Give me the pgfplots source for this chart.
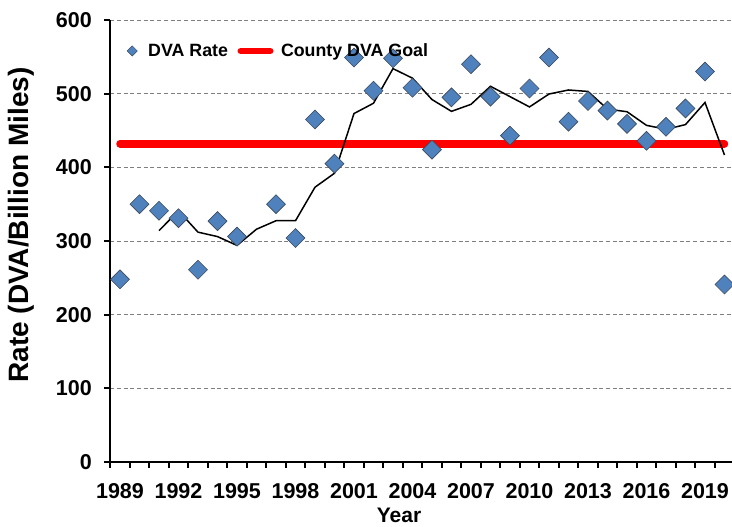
\documentclass[border=0pt]{standalone}
\usepackage{fontspec}
\setmainfont{Liberation Sans}
\usepackage{pgfplots}
\pgfplotsset{compat=1.18}
\definecolor{dvablue}{HTML}{4F81BD}
\definecolor{dvaedge}{HTML}{3C4A5C}
\definecolor{gridgray}{HTML}{7F7F7F}
\begin{document}
\begin{tikzpicture}
\begin{axis}[
  scale only axis,
  width=621.75pt, height=442pt,
  xmin=1988.5, xmax=2020.385,
  ymin=0, ymax=600,
  axis x line=bottom, axis y line=left,
  axis line style={line width=2.3pt, -},
  xtick={1989,1992,...,2019},
  minor xtick={1988.5,1989.5,...,2020.5},
  major x tick style={draw=none},
  minor tick length=6pt,
  ytick={0,100,...,600},
  major tick length=6pt,
  tick align=outside,
  tick style={line width=2pt, black},
  ymajorgrids,
  major grid style={gridgray, line width=0.9pt, dash pattern=on 4pt off 2.7pt},
  /pgf/number format/assume math mode=true,
  /pgf/number format/1000 sep={},
  ticklabel style={font=\bfseries\fontsize{21.5}{21.5}\selectfont},
  xticklabel style={yshift=-12pt},
  yticklabel style={xshift=-9pt},
  xlabel={Year},
  xlabel style={font=\bfseries\fontsize{21}{21}\selectfont, at={(axis description cs:0.4644,0)}, anchor=north, yshift=-43pt},
  ylabel={Rate (DVA/Billion Miles)},
  ylabel style={font=\bfseries\fontsize{28}{28}\selectfont, at={(axis description cs:-0.1158,0.536)}, anchor=south},
  legend columns=2,
  legend style={draw=none, fill=none, font=\bfseries\fontsize{17.8}{17.8}\selectfont, at={(axis description cs:0.0220,0.93)}, anchor=west},
]
\addplot[only marks, mark=square*, mark size=6.7pt, mark options={rotate=45, fill=dvablue, draw=dvaedge, line width=0.6pt},
  legend image code/.code={\path[draw=none] (0pt,0pt) -- (19pt,0pt);
    \draw[draw=none, mark=square*, mark size=3.6pt, mark options={rotate=45, fill=dvablue, draw=dvaedge, line width=0.5pt}] plot coordinates {(5pt,0pt)};}]
coordinates {
(1989,248) (1990,350) (1991,341) (1992,331) (1993,261) (1994,327) (1995,306)
(1997,350) (1998,304) (1999,465) (2000,405) (2001,549) (2002,504) (2003,548)
(2004,508) (2005,424) (2006,495) (2007,540) (2008,496) (2009,443) (2010,507)
(2011,549) (2012,462) (2013,490) (2014,477) (2015,459) (2016,436) (2017,455)
(2018,480) (2019,530) (2020,241)
};
\addlegendentry{DVA Rate}
\addplot[red, line width=7.5pt, line cap=round,
  legend image code/.code={\path[draw=none] (0pt,0pt) -- (49pt,0pt);
    \draw[red, line width=6.5pt, line cap=round] (10.75pt,0pt) -- (40.25pt,0pt);}]
coordinates {(1989,432) (2020,432)};
\addlegendentry{County DVA Goal}
\addplot[black, line width=1.5pt, forget plot] coordinates {
(1991,314) (1992,341) (1993,312) (1994,306) (1995,294) (1996,316) (1997,327.5)
(1998,327.5) (1999,373) (2000,392) (2001,473) (2002,487) (2003,534) (2004,521)
(2005,492) (2006,476) (2007,485.5) (2008,510) (2009,496) (2010,482) (2011,499.5)
(2012,505) (2013,503) (2014,479) (2015,475.5) (2016,457) (2017,451.6) (2018,458)
(2019,488) (2020,416.7)
};
\end{axis}
\pgfresetboundingbox
\useasboundingbox (-110.25pt,-65pt) rectangle (621.75pt,462pt);
\end{tikzpicture}
\end{document}
